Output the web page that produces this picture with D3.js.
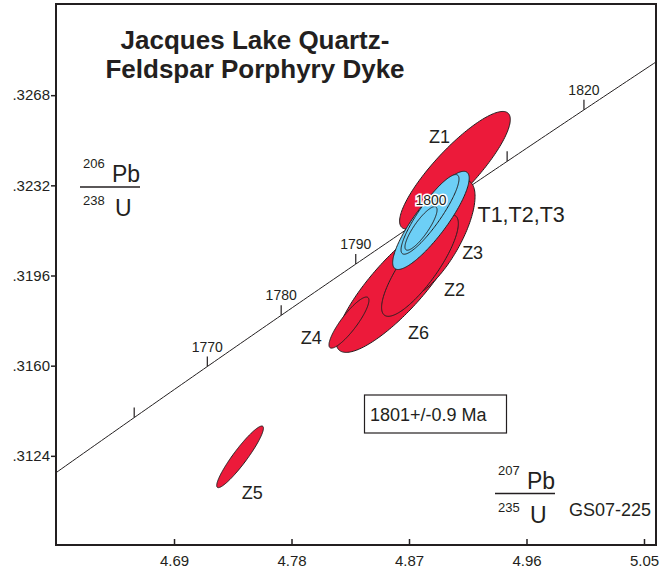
<!DOCTYPE html>
<html>
<head>
<meta charset="utf-8">
<script src="https://cdn.jsdelivr.net/npm/d3@7"></script>
<style>
  body { margin: 0; background: #fff; }
  svg { display: block; font-family: "Liberation Sans", Arial, Helvetica, sans-serif; }
</style>
</head>
<body>
<svg id="chart" width="668" height="569"></svg>
<script>
// ---- data ----------------------------------------------------------------
const xTicks = [4.69, 4.78, 4.87, 4.96, 5.05];
const yTicks = [0.3124, 0.3160, 0.3196, 0.3232, 0.3268];

// concordia age marks (Ma) and which of them carry a label
const ageTicks  = [1760, 1770, 1780, 1790, 1800, 1810, 1820];
const ageLabels = [1770, 1780, 1790, 1800, 1820];

// fractions, drawn back to front: 207Pb/235U (2s), 206Pb/238U (2s), rho
const fraction = ["Z1", "Z2", "Z3", "Z6", "Z4", "Z5", "T1", "T2", "T3"];
const pb207u235 = [4.9052, 4.8616, 4.8907, 4.8784, 4.8240, 4.7406, 4.8868, 4.8861, 4.8792];
const err207    = [0.0424, 0.0475, 0.0299, 0.0294, 0.0153, 0.0179, 0.0293, 0.0222, 0.0123];
const pb206u238 = [0.32380, 0.31924, 0.32108, 0.32000, 0.31772, 0.31236, 0.32180, 0.32204, 0.32148];
const err206    = [0.00235, 0.00271, 0.00234, 0.00203, 0.00102, 0.00123, 0.00196, 0.00159, 0.00087];
const rho       = [0.864, 0.837, 0.719, 0.825, 0.871, 0.930, 0.859, 0.889, 0.849];
const mineral   = ["zircon", "zircon", "zircon", "zircon", "zircon", "zircon", "titanite", "titanite", "titanite"];

const ageText = "1801+/-0.9 Ma";
const sampleId = "GS07-225";

// ---- layout ----------------------------------------------------------------
const svg = d3.select("#chart");
const frame = { left: 56, top: 4, right: 656, bottom: 545 };
const ink = "#231f20";
const fill = { zircon: "#ec1a3a", titanite: "#6dcff6" };

const x = d3.scaleLinear().domain([4.5996, 5.0592]).range([frame.left, frame.right]);
const y = d3.scaleLinear().domain([0.30884, 0.33044]).range([frame.bottom, frame.top]);

svg.append("clipPath").attr("id", "plotArea")
  .append("rect")
  .attr("x", frame.left).attr("y", frame.top)
  .attr("width", frame.right - frame.left).attr("height", frame.bottom - frame.top);

// ---- concordia --------------------------------------------------------------
const L238 = 1.55125e-10, L235 = 9.8485e-10;
const conc = t => ({ x: Math.exp(L235 * t * 1e6) - 1, y: Math.exp(L238 * t * 1e6) - 1 });

const curve = d3.range(1740, 1840.01, 0.5).map(conc);
svg.append("path")
  .attr("clip-path", "url(#plotArea)")
  .attr("d", d3.line().x(d => x(d.x)).y(d => y(d.y))(curve))
  .attr("fill", "none").attr("stroke", ink).attr("stroke-width", 1);

const marks = svg.append("g");
ageTicks.forEach(a => {
  const p = conc(a);
  marks.append("line")
    .attr("x1", x(p.x)).attr("x2", x(p.x))
    .attr("y1", y(p.y)).attr("y2", y(p.y) - 10)
    .attr("stroke", ink).attr("stroke-width", 1.2);
  if (ageLabels.includes(a) && a !== 1800) {
    marks.append("text")
      .attr("x", x(p.x)).attr("y", y(p.y) - 15)
      .attr("text-anchor", "middle")
      .attr("font-size", 14).attr("fill", ink)
      .text(a);
  }
});

// ---- error ellipses ---------------------------------------------------------
const ellipse = (cx, sx, cy, sy, r) => d3.range(0, 360, 2).map(deg => {
  const t = deg * Math.PI / 180;
  return [x(cx + sx * Math.cos(t)),
          y(cy + sy * (r * Math.cos(t) + Math.sqrt(1 - r * r) * Math.sin(t)))];
});

const ell = svg.append("g");
fraction.forEach((name, i) => {
  ell.append("path")
    .attr("d", d3.line().curve(d3.curveLinearClosed)(
      ellipse(pb207u235[i], err207[i], pb206u238[i], err206[i], rho[i])))
    .attr("fill", fill[mineral[i]])
    .attr("stroke", ink).attr("stroke-width", 1);
});

// 1800 label sits over the ellipses with a white halo
{
  const p = conc(1800);
  svg.append("text")
    .attr("x", x(p.x)).attr("y", y(p.y) - 8)
    .attr("text-anchor", "middle")
    .attr("font-size", 14).attr("fill", ink)
    .attr("stroke", "#fff").attr("stroke-width", 3).attr("paint-order", "stroke")
    .text(1800);
}

// ---- fraction labels (placed in ratio space) --------------------------------
const tags = [
  { t: "Z1", a: 4.8854, b: 0.32488 },
  { t: "Z3", a: 4.9107, b: 0.32026 },
  { t: "Z2", a: 4.8969, b: 0.31878 },
  { t: "Z6", a: 4.8693, b: 0.31706 },
  { t: "Z4", a: 4.7871, b: 0.31686 },
  { t: "Z5", a: 4.7419, b: 0.31066 },
];
tags.forEach(d => {
  svg.append("text").attr("x", x(d.a)).attr("y", y(d.b))
    .attr("font-size", 18).attr("fill", ink).text(d.t);
});
svg.append("text").attr("x", x(4.9225)).attr("y", y(0.32174))
  .attr("font-size", 21.5).attr("fill", ink).text("T1,T2,T3");

// ---- frame and axes -----------------------------------------------------------
svg.append("rect")
  .attr("x", frame.left).attr("y", frame.top)
  .attr("width", frame.right - frame.left).attr("height", frame.bottom - frame.top)
  .attr("fill", "none").attr("stroke", ink).attr("stroke-width", 2);

const yAxis = svg.append("g")
  .attr("transform", `translate(${frame.left},0)`)
  .call(d3.axisLeft(y).tickValues(yTicks).tickSize(5).tickPadding(1)
        .tickFormat(v => d3.format(".4f")(v).replace(/^0/, "")));
const xAxis = svg.append("g")
  .attr("transform", `translate(0,${frame.bottom})`)
  .call(d3.axisBottom(x).tickValues(xTicks).tickSizeInner(-6).tickSizeOuter(0).tickPadding(10)
        .tickFormat(d3.format(".2f")));
[yAxis, xAxis].forEach(g => {
  g.select(".domain").remove();
  g.selectAll(".tick line").attr("stroke", ink).attr("stroke-width", 1.5);
  g.selectAll(".tick text").attr("font-size", 15).attr("fill", ink)
    .attr("font-family", "'Liberation Sans', Arial, sans-serif");
});

// ---- titles and axis ratio labels ------------------------------------------------
const title = svg.append("text").attr("text-anchor", "middle")
  .attr("font-size", 26).attr("font-weight", "bold").attr("fill", ink);
title.append("tspan").attr("x", 255).attr("y", 49).text("Jacques Lake Quartz-");
title.append("tspan").attr("x", 255).attr("y", 78).text("Feldspar Porphyry Dyke");

function ratioLabel(x0, lineY, topMass, topEl, botMass, botEl, width) {
  const g = svg.append("g").attr("fill", ink);
  g.append("text").attr("x", x0 + 3).attr("y", lineY - 19).attr("font-size", 13).text(topMass);
  g.append("text").attr("x", x0 + 32).attr("y", lineY - 5).attr("font-size", 23).text(topEl);
  g.append("line").attr("x1", x0).attr("x2", x0 + width)
    .attr("y1", lineY).attr("y2", lineY).attr("stroke", ink).attr("stroke-width", 1.5);
  g.append("text").attr("x", x0 + 3).attr("y", lineY + 18).attr("font-size", 13).text(botMass);
  g.append("text").attr("x", x0 + 35).attr("y", lineY + 29).attr("font-size", 23).text(botEl);
}
ratioLabel(80, 187, "206", "Pb", "238", "U", 60);
ratioLabel(495, 493.5, "207", "Pb", "235", "U", 60);

svg.append("text").attr("x", 569).attr("y", 515.5)
  .attr("font-size", 18).attr("fill", ink).text(sampleId);

// age result box
svg.append("rect").attr("x", 364.5).attr("y", 395).attr("width", 142).attr("height", 38)
  .attr("fill", "#fff").attr("stroke", ink).attr("stroke-width", 1.2);
svg.append("text").attr("x", 370).attr("y", 421)
  .attr("font-size", 18).attr("fill", ink).text(ageText);
</script>
</body>
</html>
